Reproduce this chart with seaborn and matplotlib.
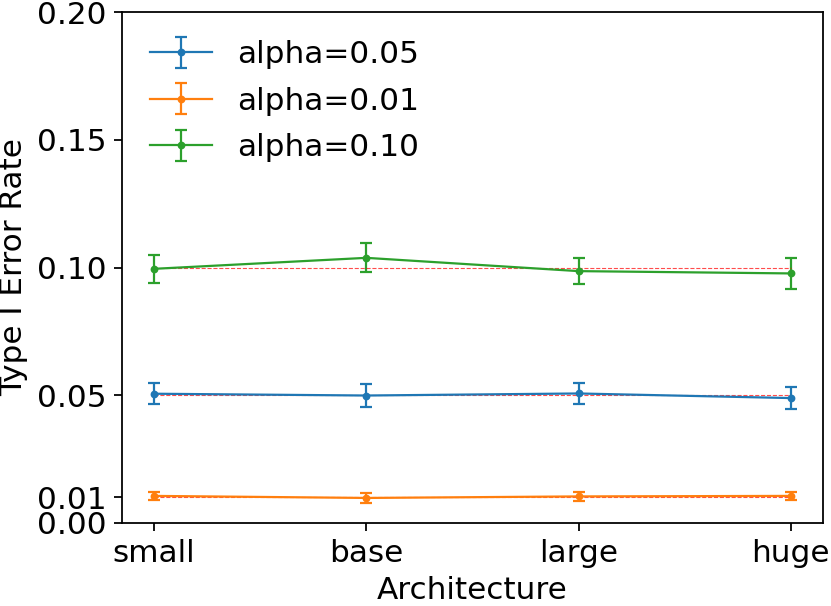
import numpy as np
import matplotlib
matplotlib.use("Agg")
import matplotlib.pyplot as plt
import seaborn as sns

# Data
architectures = ["small", "base", "large", "huge"]
alpha_labels = ["alpha=0.05", "alpha=0.01", "alpha=0.10"]
alpha_levels = [0.05, 0.01, 0.10]

rate_005 = [0.0506, 0.0499, 0.0507, 0.0489]
err_005 = [0.0042, 0.0044, 0.0042, 0.0044]
rate_001 = [0.0106, 0.0098, 0.0104, 0.0106]
err_001 = [0.0017, 0.0019, 0.0017, 0.0017]
rate_010 = [0.0995, 0.1038, 0.0986, 0.0977]
err_010 = [0.0055, 0.0057, 0.0052, 0.0060]

rates = [rate_005, rate_001, rate_010]
errors = [err_005, err_001, err_010]


def main():
    # plain matplotlib look, seaborn palette only
    sns.set_palette("tab10")
    plt.rcParams["font.family"] = ["DejaVu Sans"]
    plt.rcParams["font.size"] = 14
    colors = sns.color_palette("tab10", 3)

    dpi = 160
    fig, ax = plt.subplots(figsize=(831 / dpi, 606 / dpi), dpi=dpi)
    x = np.arange(len(architectures))

    for lab, r, e, c in zip(alpha_labels, rates, errors, colors):
        ax.errorbar(x, r, yerr=e, label=lab, color=c, marker="o",
                    markersize=2.5, linewidth=1.0, capsize=2.5,
                    elinewidth=1.0, capthick=1.0)

    # nominal alpha reference lines
    for a in alpha_levels:
        ax.hlines(a, x[0], x[-1], colors="red", linestyles="--",
                  linewidth=0.5, alpha=0.7)

    ax.set_xticks(x)
    ax.set_xticklabels(architectures)
    ax.set_yticks([0.0, 0.01, 0.05, 0.10, 0.15, 0.20])
    ax.set_yticklabels(["0.00", "0.01", "0.05", "0.10", "0.15", "0.20"])
    ax.set_ylim(0, 0.2)
    ax.set_xlabel("Architecture")
    ax.set_ylabel("Type I Error Rate")
    ax.legend(loc="upper left", frameon=False, labelspacing=0.56)

    fig.subplots_adjust(left=0.147, right=0.99, top=0.98, bottom=0.137)
    fig.savefig("out.png", dpi=dpi)


if __name__ == "__main__":
    main()
